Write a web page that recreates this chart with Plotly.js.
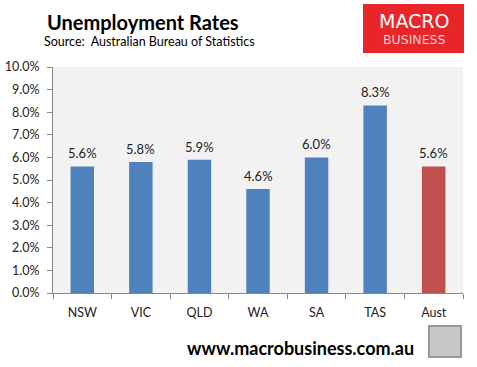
<!DOCTYPE html>
<html><head><meta charset="utf-8">
<script src="https://cdn.plot.ly/plotly-3.0.1.min.js"></script>
<style>html,body{margin:0;padding:0;background:#fff}#c{width:477px;height:367px}</style>
</head><body><div id="c"></div>
<script>
var states = ['NSW','VIC','QLD','WA','SA','TAS','Aust'];
var rates = [5.6, 5.8, 5.9, 4.6, 6.0, 8.3, 5.6];
var barColors = ['#4f81bd','#4f81bd','#4f81bd','#4f81bd','#4f81bd','#4f81bd','#c0504d'];
var yTicks = [0,1,2,3,4,5,6,7,8,9,10];

var F = 'Lato, "Open Sans", sans-serif';
var trace = {
  type:'bar', x:states, y:rates,
  marker:{color:barColors},
  hoverinfo:'none'
};
function py(p){return (293-p)/226;}
function px(p){return (p-53)/410;}
var anns = [
  {xref:'paper',yref:'paper',x:px(45),y:py(22),xanchor:'left',yanchor:'middle',showarrow:false,
   text:'<b>Unemployment Rates</b>', font:{family:F,size:20,color:'#000'}},
  {xref:'paper',yref:'paper',x:px(42),y:py(42),xanchor:'left',yanchor:'middle',showarrow:false,
   text:'Source:  Australian Bureau of Statistics', font:{family:F,size:12.5,color:'#000'}},
  {xref:'paper',yref:'paper',x:px(413.5),y:py(29),xanchor:'center',yanchor:'middle',showarrow:false,
   text:'<span style="font-size:19px;color:#ffffff">MACRO</span><br>BUSINESS',
   font:{family:'"DejaVu Sans", sans-serif',size:12.5,color:'#f6d0d0'}},
  {xref:'paper',yref:'paper',x:px(300),y:py(348),xanchor:'center',yanchor:'middle',showarrow:false,
   text:'<b>www.macrobusiness.com.au</b>', font:{family:F,size:18,color:'#000'}}
];
states.forEach(function(s,i){
  anns.push({x:s, y:rates[i], xref:'x', yref:'y', text:rates[i].toFixed(1)+'%', showarrow:false,
    yanchor:'middle', yshift:13, font:{family:F,size:13,color:'#222'}});
});
var layout = {
  width:477, height:367,
  margin:{l:53,r:14,t:67,b:74},
  paper_bgcolor:'#ffffff', plot_bgcolor:'#f2f2f2',
  bargap:0.6, showlegend:false,
  font:{family:F,size:12,color:'#222'},
  xaxis:{type:'category', tickson:'boundaries', ticks:'outside', ticklen:5, tickcolor:'#888',
         showline:true, linecolor:'#888', linewidth:1, showgrid:false, zeroline:false,
         ticklabelstandoff:8, tickfont:{family:F,size:12.5,color:'#222'}},
  yaxis:{range:[0,10], tickvals:yTicks, ticktext:yTicks.map(function(v){return v.toFixed(1)+'%';}),
         ticks:'outside', ticklen:5, tickcolor:'#888', showline:true, linecolor:'#888', linewidth:1,
         showgrid:false, zeroline:false, ticklabelstandoff:5, tickfont:{family:F,size:12.5,color:'#222'}},
  shapes:[
    {type:'rect', xref:'paper', yref:'paper', x0:px(363), x1:px(464),
     y0:py(53), y1:py(4), fillcolor:'#e8262a', line:{width:0}},
    {type:'rect', xref:'paper', yref:'paper', x0:px(429), x1:px(461),
     y0:py(357), y1:py(326), fillcolor:'#c8c8c8', line:{color:'#999',width:2}}
  ],
  annotations:anns
};
Plotly.newPlot('c',[trace],layout,{staticPlot:true,displayModeBar:false});
</script></body></html>
